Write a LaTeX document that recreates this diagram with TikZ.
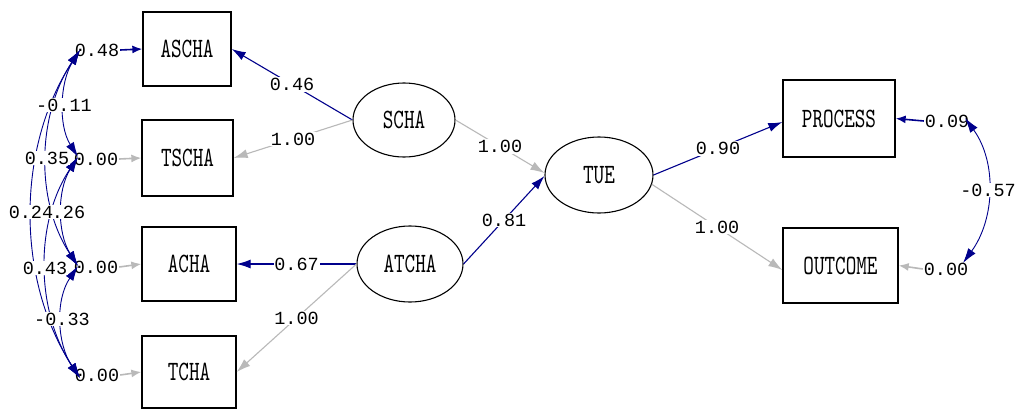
\documentclass[tikz,border=0pt]{standalone}
\usepackage{fontspec}
\usetikzlibrary{arrows.meta,shapes.geometric}
\newfontfamily\numfont{Liberation Mono}
\newfontfamily\namefont{lmmono10-regular}[Extension=.otf,FakeStretch=0.72]
\definecolor{pathblue}{RGB}{0,0,140}
\definecolor{pathgray}{RGB}{185,185,185}
\begin{document}
\begin{tikzpicture}[x=1pt,y=-1pt,
  obsbox/.style={draw=black,line width=1.3pt,rectangle,inner sep=0pt,
    font=\namefont\fontsize{28}{30}\selectfont},
  latent/.style={draw=black,line width=1.1pt,ellipse,inner sep=0pt,
    font=\namefont\fontsize{28}{30}\selectfont},
  numlbl/.style={font=\numfont\fontsize{18.5}{20}\selectfont,fill=white,inner sep=0.8pt},
  blueload/.style={draw=pathblue,line width=1.1pt,-{Latex[length=14pt,width=9pt]}},
  grayload/.style={draw=pathgray,line width=1.1pt,-{Latex[length=14pt,width=9pt]}},
  errblue/.style={draw=pathblue,line width=1.6pt,-{Latex[length=10pt,width=8pt]}},
  errgray/.style={draw=pathgray,line width=1.6pt,-{Latex[length=10pt,width=8pt]}},
  covblue/.style={draw=pathblue,line width=0.9pt,
    {Latex[length=15pt,width=9pt]}-{Latex[length=15pt,width=9pt]}}
]
\fill[white] (0,0) rectangle (1021,410);
\useasboundingbox (0,0) rectangle (1021,410);

% observed indicators
\node[obsbox,minimum width=88pt,minimum height=74pt] (ascha) at (187,49) {ASCHA};
\node[obsbox,minimum width=91pt,minimum height=76pt] (tscha) at (187.5,158) {TSCHA};
\node[obsbox,minimum width=94pt,minimum height=74pt] (acha) at (189,264) {ACHA};
\node[obsbox,minimum width=94pt,minimum height=72pt] (tcha) at (189,372) {TCHA};
\node[obsbox,minimum width=112pt,minimum height=77pt] (process) at (839,118.5) {PROCESS};
\node[obsbox,minimum width=115pt,minimum height=75pt] (outcome) at (840.5,265.5) {OUTCOME};

% latent variables
\node[latent,minimum width=102pt,minimum height=74pt] (scha) at (404,120) {SCHA};
\node[latent,minimum width=106pt,minimum height=76pt] (atcha) at (410,264) {ATCHA};
\node[latent,minimum width=108pt,minimum height=76pt] (tue) at (599,175) {TUE};

% loadings
\draw[blueload] (scha.west) -- (ascha.east) node[numlbl,pos=0.5] (l1) {0.46};
\draw[grayload] (scha.west) -- (tscha.east) node[numlbl,pos=0.5] (l2) {1.00};
\draw[blueload] (atcha.west) -- (acha.east) node[numlbl,pos=0.5] (l3) {0.67};
\draw[grayload] (atcha.west) -- (tcha.east) node[numlbl,pos=0.5] (l4) {1.00};
\draw[grayload] (scha.east) -- ([yshift=2pt]tue.west) node[numlbl,pos=0.5] (l5) {1.00};
\draw[blueload] (atcha.east) -- ([yshift=-1pt]tue.west) node[numlbl,pos=0.5] (l6) {0.81};
\draw[blueload] (tue.east) -- ([yshift=-3.5pt]process.west) node[numlbl,pos=0.5] (l7) {0.90};
\draw[grayload] (tue.-10) -- ([yshift=-4.5pt]outcome.west) node[numlbl,pos=0.5] (l8) {1.00};

% error variances
\node[numlbl] (ea) at (97,50) {0.48};
\node[numlbl] (eb) at (96,159) {0.00};
\node[numlbl] (ec) at (96,267) {0.00};
\node[numlbl] (ed) at (97,375) {0.00};
\node[numlbl] (ep) at (947,121) {0.09};
\node[numlbl] (eo) at (946,269) {0.00};
\draw[errblue] (ea.east) -- (ascha.west);
\draw[errgray] (eb.east) -- (tscha.west);
\draw[errgray] (ec.east) -- (acha.west);
\draw[errgray] (ed.east) -- (tcha.west);
\draw[errblue] (ep.west) -- (process.east);
\draw[errgray] (eo.west) -- (outcome.east);

% error covariances
\coordinate (c1) at (80,50);
\coordinate (c2) at (78,157);
\coordinate (c3) at (78,266);
\coordinate (c4) at (80,378);
\coordinate (cp) at (965,118);
\coordinate (co) at (963,263);
\draw[covblue] (c1) .. controls (60,82) and (58,125) .. (c2);
\draw[covblue] (c1) .. controls (37,115) and (35,201) .. (c3);
\draw[covblue] (c1) .. controls (16,148) and (16,280) .. (c4);
\draw[covblue] (c2) .. controls (57,190) and (57,233) .. (c3);
\draw[covblue] (c2) .. controls (34,223) and (36,312) .. (c4);
\draw[covblue] (c3) .. controls (55,300) and (57,344) .. (c4);
\draw[covblue] (cp) .. controls (997,162) and (995,219) .. (co);

\node[numlbl] (k12) at (64,105) {-0.11};
\node[numlbl] (k13) at (47,158) {0.35};
\node[numlbl] (k23) at (63,212) {0.26};
\node[numlbl] (k14) at (31,212) {0.24};
\node[numlbl] (k24) at (45,268) {0.43};
\node[numlbl] (k34) at (62,319) {-0.33};
\node[numlbl] (kpo) at (988,190) {-0.57};
\end{tikzpicture}
\end{document}
